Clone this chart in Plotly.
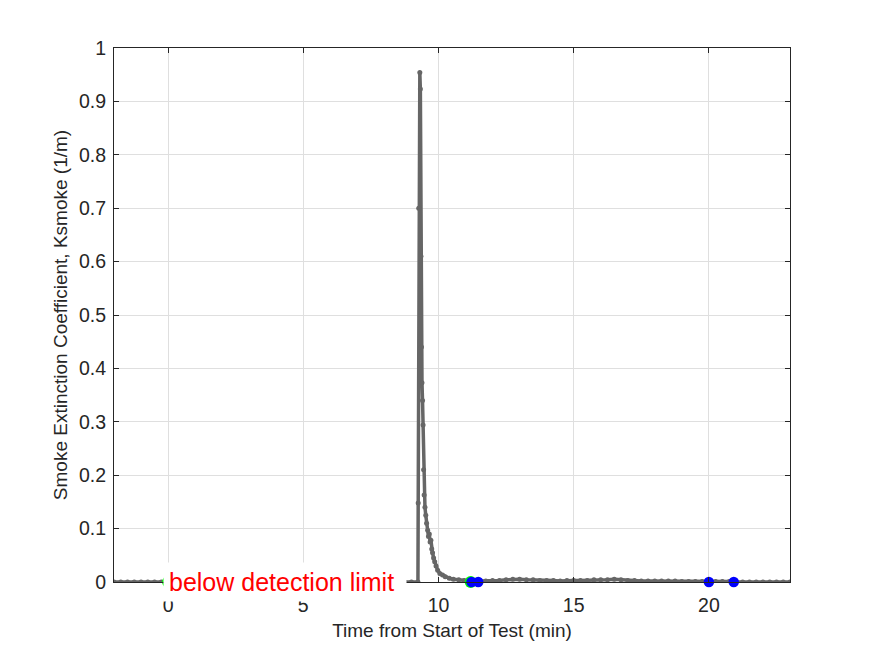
import plotly.graph_objects as go

# ---- data ----
time_min = [
    -2.0, -1.75, -1.5, -1.25, -1.0, -0.75, -0.5, -0.25, 0.0, 0.25, 0.5, 0.75,
    1.0, 1.25, 1.5, 1.75, 2.0, 2.25, 2.5, 2.75, 3.0, 3.25, 3.5, 3.75,
    4.0, 4.25, 4.5, 4.75, 5.0, 5.25, 5.5, 5.75, 6.0, 6.25, 6.5, 6.75,
    7.0, 7.25, 7.5, 7.75, 8.0, 8.25, 8.5, 8.75, 9.0, 9.24,
    9.25, 9.27, 9.31, 9.33, 9.35, 9.37, 9.39, 9.41, 9.43, 9.45, 9.47,
    9.50, 9.53, 9.56, 9.60, 9.63, 9.66, 9.69, 9.72, 9.75, 9.78, 9.82,
    9.86, 9.91, 9.97, 10.05, 10.15, 10.25, 10.4, 10.55, 10.75, 10.95, 11.2,
    11.5, 11.75, 12.0, 12.25, 12.5, 12.75, 13.0, 13.25, 13.5, 13.75, 14.0,
    14.25, 14.5, 14.75, 15.0, 15.25, 15.5, 15.75, 16.0, 16.25, 16.5, 16.75,
    17.0, 17.25, 17.5, 17.75, 18.0, 18.25, 18.5, 18.75, 19.0, 19.25, 19.5,
    19.75, 20.0, 20.25, 20.5, 20.75, 21.0, 21.25, 21.5, 21.75, 22.0, 22.25,
    22.5, 22.75, 23.0,
]
ksmoke = [
    0.0, 0.0, 0.0, 0.0, 0.0, 0.0, 0.0, 0.0, 0.0, 0.0, 0.0, 0.0,
    0.0, 0.0, 0.0, 0.0, 0.0, 0.0, 0.0, 0.0, 0.0, 0.0, 0.0, 0.0,
    0.0, 0.0, 0.0, 0.0, 0.0, 0.0, 0.0, 0.0, 0.0, 0.0, 0.0, 0.0,
    0.0, 0.0, 0.0, 0.0, 0.0, 0.0, 0.0, 0.0, 0.0, 0.0,
    0.148, 0.70, 0.954, 0.923, 0.61, 0.44, 0.373, 0.34, 0.294, 0.21, 0.163,
    0.14, 0.125, 0.11, 0.097, 0.085, 0.09, 0.075, 0.078, 0.062, 0.055, 0.045,
    0.038, 0.030, 0.022, 0.016, 0.013, 0.010, 0.007, 0.005, 0.004, 0.003, 0.002,
    0.002, 0.002, 0.003, 0.003, 0.004, 0.005, 0.005, 0.004, 0.004, 0.003, 0.003,
    0.003, 0.002, 0.003, 0.003, 0.003, 0.003, 0.004, 0.004, 0.004, 0.005, 0.004,
    0.003, 0.003, 0.002, 0.002, 0.002, 0.002, 0.002, 0.002, 0.001, 0.001, 0.001,
    0.001, 0.001, 0.001, 0.001, 0.001, 0.0, 0.0, 0.0, 0.0, 0.0, 0.0,
    0.0, 0.0, 0.0,
]
green_t = [0.0, 11.19]
green_k = [0.0, 0.0]
blue_t = [11.22, 11.47, 20.0, 20.92]
blue_k = [0.0, 0.0, 0.0, 0.0]

x_ticks = [0, 5, 10, 15, 20]
y_ticks = [0, 0.1, 0.2, 0.3, 0.4, 0.5, 0.6, 0.7, 0.8, 0.9, 1]
y_tick_text = ["0", "0.1", "0.2", "0.3", "0.4", "0.5", "0.6", "0.7", "0.8", "0.9", "1"]

FONT = "Arial, 'Liberation Sans', sans-serif"
AX = "#262626"

fig = go.Figure()
fig.add_trace(go.Scatter(
    x=time_min, y=ksmoke, mode="lines+markers",
    line=dict(color="#666666", width=3.5),
    marker=dict(color="#666666", size=5, line=dict(width=0)),
    showlegend=False, cliponaxis=True,
))
fig.add_trace(go.Scatter(
    x=green_t, y=green_k, mode="markers",
    marker=dict(color="#00ff00", size=12, line=dict(width=0)),
    showlegend=False, cliponaxis=False,
))
fig.add_trace(go.Scatter(
    x=blue_t, y=blue_k, mode="markers",
    marker=dict(color="#0000ff", size=10.5, line=dict(width=0)),
    showlegend=False, cliponaxis=False,
))

fig.add_annotation(
    x=-0.185, y=0, xref="x", yref="y", xanchor="left", yanchor="middle",
    text="below detection limit", showarrow=False,
    font=dict(family=FONT, size=25, color="#ff0000"),
    bgcolor="#ffffff", borderpad=5, width=232, align="left",
)

axis_common = dict(
    showline=True, linecolor=AX, linewidth=1, mirror="ticks",
    ticks="inside", ticklen=5, tickcolor=AX,
    showgrid=True, gridcolor="#dfdfdf", gridwidth=1,
    zeroline=False,
    tickfont=dict(family=FONT, size=19.5, color=AX),
)

fig.update_xaxes(
    range=[-2, 23], tickvals=x_ticks, ticklabelstandoff=6,
    title=dict(text="Time from Start of Test (min)",
               font=dict(family=FONT, size=19, color=AX), standoff=8),
    **axis_common,
)
fig.update_yaxes(
    range=[0, 1], tickvals=y_ticks, ticktext=y_tick_text, ticklabelstandoff=3,
    title=dict(text="Smoke Extinction Coefficient, Ksmoke (1/m)",
               font=dict(family=FONT, size=19, color=AX), standoff=6),
    **axis_common,
)

fig.update_layout(
    width=875, height=656,
    margin=dict(l=114, r=85, t=48, b=74),
    paper_bgcolor="#ffffff", plot_bgcolor="#ffffff",
    font=dict(family=FONT, color=AX),
)

fig.write_html("out.html")
